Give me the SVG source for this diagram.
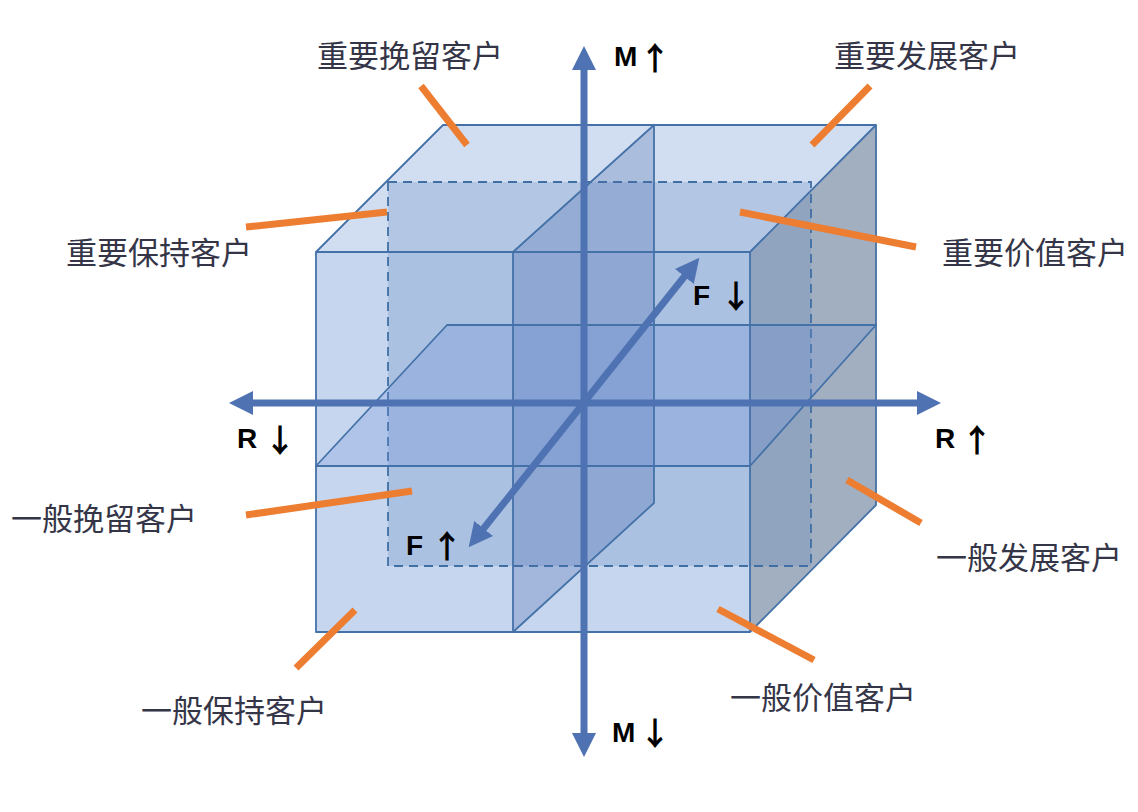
<svg xmlns="http://www.w3.org/2000/svg" width="1138" height="812" viewBox="0 0 1138 812">
<defs>
<style>
.edge{fill:none;stroke:#4472A8;stroke-width:1.8;stroke-linejoin:round}
.dash{fill:#5B82C0;fill-opacity:0.25;stroke:#3F6FA3;stroke-width:1.8;stroke-dasharray:9 6}
.axis{stroke:#4E72B2;stroke-width:7;fill:none}
.lead{stroke:#ED7D31;stroke-width:7;stroke-linecap:butt}
.cn{font-family:"Noto Sans CJK SC","Noto Sans",sans-serif;font-size:31px;fill:#353548;text-anchor:middle}
.ax{font-family:"Liberation Sans",Arial,sans-serif;font-size:28px;font-weight:bold;fill:#000}
.arr{font-family:"Noto Sans CJK SC","DejaVu Sans",sans-serif;font-size:32px;font-weight:bold;text-anchor:middle}
</style>
<marker id="head" viewBox="0 0 24 24" refX="1" refY="12" markerWidth="24" markerHeight="24" markerUnits="userSpaceOnUse" orient="auto-start-reverse">
<path d="M0,0 L24,12 L0,24 Z" fill="#4E72B2"/>
</marker>
</defs>
<rect width="1138" height="812" fill="#ffffff"/>

<g id="cube">
<rect x="316" y="252" width="434" height="380" fill="#C6D6EE"/>
<polygon points="316,252 443,125 876,125 750,252" fill="#D1DEF1"/>
<polygon points="750,252 876,125 876,505 750,632" fill="#A2AFC1"/>
<rect id="back-face" class="dash" x="388" y="182" width="423" height="384"/>
<polygon id="vplane" points="513,252 654,125 654,503 513,632" fill="#5070B0" fill-opacity="0.3"/>
<polygon id="hplane" points="316,466 750,466 876,325 447,325" fill="#6D8FD6" fill-opacity="0.25"/>
<rect class="edge" x="316" y="252" width="434" height="380"/>
<polyline class="edge" points="316,252 443,125 876,125 750,252"/>
<polyline class="edge" points="876,125 876,505 750,632"/>
<polygon class="edge" points="513,252 654,125 654,503 513,632"/>
<polygon class="edge" points="316,466 750,466 876,325 447,325"/>
</g>

<g id="axes">
<line class="axis" x1="584" y1="69" x2="584" y2="734" marker-start="url(#head)" marker-end="url(#head)"/>
<line class="axis" x1="252" y1="403" x2="918" y2="403" marker-start="url(#head)" marker-end="url(#head)"/>
<line class="axis" x1="483" y1="529.2" x2="685" y2="275.8" marker-start="url(#head)" marker-end="url(#head)"/>
</g>

<g id="axis-labels">
<g id="m-up"><text class="ax" x="614" y="66">M<tspan class="arr" x="655" y="70">↑</tspan></text></g>
<g id="m-down"><text class="ax" x="612" y="742">M<tspan class="arr" x="655" y="745">↓</tspan></text></g>
<g id="r-down"><text class="ax" x="237" y="448">R<tspan class="arr" x="280" y="452">↓</tspan></text></g>
<g id="r-up"><text class="ax" x="935" y="448">R<tspan class="arr" x="977" y="452">↑</tspan></text></g>
<g id="f-down"><text class="ax" x="693" y="305">F<tspan class="arr" x="736" y="308">↓</tspan></text></g>
<g id="f-up"><text class="ax" x="406" y="555">F<tspan class="arr" x="447" y="558">↑</tspan></text></g>
</g>

<g id="leaders">
<line class="lead" x1="421" y1="86" x2="467" y2="145"/>
<line class="lead" x1="870" y1="86" x2="812" y2="145"/>
<line class="lead" x1="246" y1="227" x2="387" y2="212"/>
<line class="lead" x1="740" y1="212" x2="916" y2="247"/>
<line class="lead" x1="246" y1="515" x2="412" y2="491"/>
<line class="lead" x1="847" y1="480" x2="921" y2="523"/>
<line class="lead" x1="296" y1="668" x2="355" y2="610"/>
<line class="lead" x1="718" y1="609" x2="814" y2="660"/>
</g>

<g id="node-zywl"><text class="cn" x="410" y="67">重要挽留客户</text></g>
<g id="node-zyfz"><text class="cn" x="927" y="67">重要发展客户</text></g>
<g id="node-zybc"><text class="cn" x="159" y="264">重要保持客户</text></g>
<g id="node-zyjz"><text class="cn" x="1035" y="264">重要价值客户</text></g>
<g id="node-ybwl"><text class="cn" x="104" y="530">一般挽留客户</text></g>
<g id="node-ybfz"><text class="cn" x="1029" y="569">一般发展客户</text></g>
<g id="node-ybbc"><text class="cn" x="234" y="722">一般保持客户</text></g>
<g id="node-ybjz"><text class="cn" x="823" y="709">一般价值客户</text></g>
</svg>
